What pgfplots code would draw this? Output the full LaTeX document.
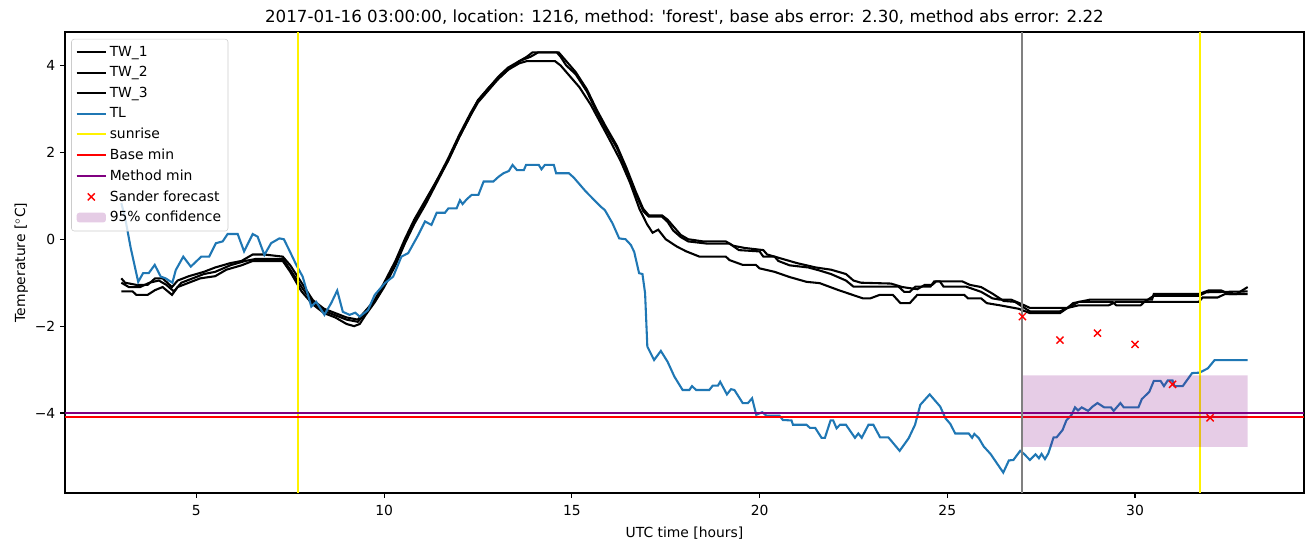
\documentclass[border=0pt]{standalone}
\usepackage{fontspec}
\setmainfont{DejaVu Sans}
\usepackage{pgfplots}
\pgfplotsset{compat=1.18}
\definecolor{tab blue}{RGB}{31,119,180}
\definecolor{mplpurple}{RGB}{128,0,128}
\definecolor{mplgray}{RGB}{128,128,128}
\begin{document}
\begin{tikzpicture}
\useasboundingbox (-46.8pt,-38.88pt) rectangle (898.56pt,354.96pt);
\begin{axis}[
  at={(0,0)}, anchor=south west,
  scale only axis, width=892.08pt, height=331.92pt,
  xmin=1.5, xmax=34.5, ymin=-5.84, ymax=4.77,
  xtick={5,10,15,20,25,30},
  ytick={-4,-2,0,2,4}, yticklabels={−4,−2,0,2,4},
  tick pos=left, tick align=outside,
  major tick length=3.5pt,
  every tick/.style={black, line width=0.8pt},
  axis line style={line width=0.8pt},
  tick label style={font=\fontsize{10}{12}\selectfont},
  xticklabel style={yshift=-2pt},
  /pgf/number format/assume math mode=true,
  xlabel={UTC time [hours]}, ylabel={Temperature [$^\circ$C]},
  label style={font=\fontsize{10}{12}\selectfont},
  xlabel style={yshift=-1pt},
  ylabel style={yshift=-2pt},
  title={2017-01-16 03:00:00, location: 1216, method: \textquotesingle forest\textquotesingle, base abs error: 2.30, method abs error: 2.22},
  title style={font=\fontsize{12}{14}\selectfont, yshift=-4pt},
  legend cell align=left,
  legend image code/.code={\draw[mark repeat=2,mark phase=2,#1] plot coordinates {(0cm,0cm) (0.37cm,0cm) (0.74cm,0cm)};},
  legend style={font=\fontsize{10}{12}\selectfont, draw=black!20, rounded corners=2pt, fill=white, fill opacity=0.8, text opacity=1, draw opacity=1, at={(0.005,0.985)}, anchor=north west, inner xsep=3pt, inner ysep=3pt, row sep=1.9pt},
  every axis plot/.append style={line width=1.5pt},
]
% TW_1
\addplot[black, mark=none] coordinates {
(3.0,-0.9) (3.1,-1.0) (3.4,-1.05) (3.7,-1.05) (3.9,-0.9) (4.1,-0.9) (4.35,-1.1) (4.5,-0.95) (4.8,-0.85) (5.2,-0.75) (5.5,-0.65) (5.9,-0.55) (6.2,-0.5) (6.5,-0.35) (6.8,-0.35) (7.3,-0.4) (7.5,-0.6) (7.8,-1.0) (8.1,-1.4) (8.4,-1.6) (8.7,-1.7) (9.0,-1.8) (9.3,-1.85) (9.5,-1.65) (9.75,-1.4) (10.0,-1.0) (10.3,-0.5) (10.55,0.0) (10.8,0.45) (11.1,0.9) (11.4,1.35) (11.7,1.8) (12.0,2.35) (12.3,2.85) (12.5,3.2) (12.8,3.5) (13.05,3.75) (13.3,3.95) (13.6,4.1) (13.8,4.2) (13.95,4.3) (14.6,4.3) (14.7,4.2) (14.85,4.0) (15.1,3.8) (15.4,3.4) (15.65,2.95) (15.9,2.55) (16.2,2.1) (16.45,1.6) (16.7,1.05) (16.9,0.65) (17.05,0.52) (17.4,0.52) (17.55,0.4) (17.7,0.2) (17.9,0.05) (18.1,-0.05) (18.6,-0.1) (19.2,-0.1) (19.45,-0.25) (20.0,-0.28) (20.1,-0.4) (20.4,-0.4) (20.5,-0.5) (20.8,-0.6) (21.3,-0.65) (21.6,-0.72) (21.9,-0.8) (22.3,-0.95) (22.5,-1.09) (23.7,-1.09) (23.85,-1.21) (24.0,-1.21) (24.15,-1.09) (24.55,-1.09) (24.65,-0.97) (24.8,-0.97) (24.9,-1.09) (25.5,-1.09) (25.9,-1.21) (26.2,-1.36) (26.4,-1.39) (26.7,-1.39) (27.0,-1.5) (27.2,-1.58) (28.2,-1.58) (28.35,-1.47) (28.8,-1.39) (30.45,-1.39) (30.5,-1.26) (31.7,-1.26) (31.95,-1.18) (32.3,-1.18) (32.5,-1.26) (32.7,-1.26) (33.0,-1.1)
};
\addlegendentry{TW\_1}
% TW_2
\addplot[black, mark=none] coordinates {
(3.0,-1.0) (3.2,-1.1) (3.5,-1.1) (3.75,-1.0) (4.0,-0.95) (4.2,-1.05) (4.4,-1.2) (4.6,-1.0) (4.9,-0.9) (5.2,-0.8) (5.5,-0.75) (5.9,-0.6) (6.3,-0.5) (6.6,-0.45) (7.3,-0.45) (7.5,-0.7) (7.8,-1.1) (8.1,-1.45) (8.4,-1.65) (8.7,-1.75) (9.0,-1.85) (9.3,-1.9) (9.5,-1.7) (9.75,-1.4) (10.0,-1.05) (10.3,-0.55) (10.55,-0.05) (10.8,0.4) (11.1,0.85) (11.4,1.35) (11.7,1.85) (12.0,2.4) (12.3,2.9) (12.5,3.2) (12.8,3.5) (13.05,3.7) (13.3,3.9) (13.6,4.1) (13.9,4.2) (14.1,4.3) (14.65,4.3) (14.8,4.15) (15.1,3.85) (15.4,3.45) (15.65,3.0) (15.9,2.6) (16.2,2.15) (16.45,1.65) (16.7,1.1) (16.9,0.7) (17.05,0.55) (17.4,0.55) (17.55,0.45) (17.7,0.3) (17.9,0.1) (18.1,0.0) (18.5,-0.05) (19.1,-0.05) (19.3,-0.15) (19.6,-0.2) (20.1,-0.25) (20.2,-0.35) (20.6,-0.45) (21.0,-0.55) (21.5,-0.65) (21.9,-0.7) (22.3,-0.8) (22.5,-0.95) (22.7,-1.0) (23.5,-1.02) (23.8,-1.1) (24.2,-1.15) (24.4,-1.05) (24.6,-1.05) (24.7,-0.97) (25.4,-0.97) (25.6,-1.05) (25.9,-1.1) (26.2,-1.25) (26.5,-1.42) (26.8,-1.44) (27.0,-1.55) (27.2,-1.66) (28.0,-1.66) (28.2,-1.58) (28.5,-1.44) (29.4,-1.44) (29.5,-1.52) (30.15,-1.52) (30.25,-1.44) (30.5,-1.3) (31.7,-1.3) (31.9,-1.22) (33.0,-1.2)
};
\addlegendentry{TW\_2}
% TW_3
\addplot[black, mark=none] coordinates {
(3.0,-1.2) (3.3,-1.2) (3.4,-1.28) (3.7,-1.28) (3.9,-1.17) (4.1,-1.1) (4.35,-1.28) (4.5,-1.1) (4.8,-1.0) (5.1,-0.9) (5.5,-0.85) (5.8,-0.7) (6.2,-0.6) (6.5,-0.5) (7.3,-0.5) (7.5,-0.75) (7.8,-1.2) (8.1,-1.5) (8.4,-1.7) (8.7,-1.8) (9.0,-1.95) (9.2,-2.0) (9.35,-1.95) (9.5,-1.75) (9.75,-1.45) (10.0,-1.1) (10.3,-0.6) (10.55,-0.1) (10.8,0.35) (11.1,0.8) (11.4,1.3) (11.7,1.8) (12.0,2.35) (12.3,2.85) (12.5,3.15) (12.8,3.45) (13.05,3.7) (13.3,3.9) (13.6,4.05) (13.8,4.1) (14.55,4.1) (14.7,4.0) (14.9,3.8) (15.2,3.5) (15.5,3.1) (15.75,2.7) (16.0,2.3) (16.3,1.8) (16.55,1.3) (16.8,0.7) (17.0,0.35) (17.15,0.15) (17.3,0.22) (17.5,0.0) (17.8,-0.17) (18.05,-0.28) (18.4,-0.4) (19.1,-0.4) (19.2,-0.48) (19.55,-0.59) (19.9,-0.59) (20.0,-0.67) (20.4,-0.75) (20.8,-0.87) (21.25,-0.98) (21.6,-1.01) (22.1,-1.17) (22.75,-1.36) (22.95,-1.36) (23.2,-1.28) (23.55,-1.28) (23.75,-1.47) (24.0,-1.47) (24.2,-1.28) (25.45,-1.28) (25.55,-1.36) (25.9,-1.36) (26.05,-1.47) (26.4,-1.52) (26.9,-1.6) (27.2,-1.7) (28.0,-1.7) (28.2,-1.58) (28.5,-1.52) (29.3,-1.52) (29.5,-1.44) (31.7,-1.44) (31.8,-1.34) (32.2,-1.34) (32.4,-1.26) (33.0,-1.26)
};
\addlegendentry{TW\_3}
% TL
\addplot[tab blue, mark=none] coordinates {
(3.0,0.83) (3.1,0.5) (3.25,-0.2) (3.45,-0.98) (3.58,-0.78) (3.73,-0.78) (3.89,-0.59) (4.05,-0.86) (4.18,-0.9) (4.36,-1.0) (4.45,-0.71) (4.65,-0.4) (4.85,-0.63) (5.13,-0.4) (5.34,-0.4) (5.52,-0.09) (5.7,-0.05) (5.83,0.12) (6.1,0.12) (6.27,-0.28) (6.5,0.12) (6.63,0.06) (6.81,-0.36) (6.99,-0.09) (7.21,0.02) (7.33,0.0) (7.5,-0.3) (7.66,-0.59) (7.83,-0.86) (8.06,-1.55) (8.19,-1.44) (8.41,-1.74) (8.59,-1.47) (8.75,-1.18) (8.9,-1.67) (9.08,-1.74) (9.23,-1.69) (9.35,-1.78) (9.57,-1.63) (9.75,-1.28) (10.02,-1.01) (10.24,-0.86) (10.46,-0.4) (10.64,-0.32) (10.91,0.1) (11.09,0.41) (11.26,0.33) (11.4,0.61) (11.62,0.61) (11.71,0.71) (11.93,0.71) (12.02,0.9) (12.09,0.81) (12.2,0.92) (12.33,1.02) (12.51,1.02) (12.65,1.33) (12.91,1.33) (13.05,1.44) (13.18,1.52) (13.32,1.57) (13.42,1.71) (13.54,1.59) (13.72,1.59) (13.78,1.71) (14.12,1.71) (14.19,1.61) (14.28,1.71) (14.52,1.71) (14.58,1.52) (14.92,1.52) (15.05,1.42) (15.37,1.1) (15.77,0.75) (15.88,0.67) (16.08,0.37) (16.26,0.02) (16.43,0.0) (16.57,-0.13) (16.66,-0.29) (16.79,-0.78) (16.88,-0.8) (16.95,-1.24) (17.01,-2.47) (17.19,-2.78) (17.37,-2.57) (17.55,-2.82) (17.73,-3.16) (17.95,-3.47) (18.13,-3.47) (18.2,-3.38) (18.31,-3.47) (18.66,-3.47) (18.75,-3.37) (18.89,-3.37) (18.95,-3.28) (19.13,-3.57) (19.24,-3.45) (19.33,-3.47) (19.55,-3.77) (19.69,-3.77) (19.8,-3.66) (19.91,-4.04) (20.07,-3.98) (20.18,-4.06) (20.53,-4.06) (20.62,-4.16) (20.85,-4.17) (20.89,-4.27) (21.25,-4.27) (21.34,-4.34) (21.48,-4.34) (21.65,-4.57) (21.74,-4.57) (21.89,-4.17) (21.96,-4.17) (22.05,-4.35) (22.14,-4.27) (22.3,-4.27) (22.54,-4.57) (22.63,-4.47) (22.72,-4.57) (22.9,-4.27) (23.03,-4.27) (23.21,-4.56) (23.43,-4.56) (23.73,-4.87) (23.97,-4.58) (24.14,-4.27) (24.28,-3.81) (24.53,-3.57) (24.81,-3.85) (24.95,-4.12) (25.08,-4.25) (25.21,-4.47) (25.57,-4.47) (25.66,-4.57) (25.72,-4.48) (25.84,-4.58) (25.97,-4.77) (26.15,-4.94) (26.49,-5.37) (26.64,-5.09) (26.76,-5.08) (26.94,-4.87) (27.03,-4.93) (27.2,-5.08) (27.35,-4.95) (27.44,-5.04) (27.51,-4.94) (27.6,-5.06) (27.69,-4.93) (27.83,-4.56) (27.91,-4.56) (28.07,-4.39) (28.17,-4.17) (28.31,-4.04) (28.4,-3.87) (28.48,-3.94) (28.58,-3.87) (28.75,-3.95) (28.87,-3.85) (29.0,-3.77) (29.18,-3.87) (29.36,-3.87) (29.43,-3.95) (29.61,-3.77) (29.7,-3.87) (30.09,-3.87) (30.18,-3.68) (30.38,-3.51) (30.5,-3.26) (30.68,-3.26) (30.77,-3.38) (30.87,-3.25) (31.0,-3.25) (31.05,-3.38) (31.27,-3.38) (31.52,-3.08) (31.72,-3.07) (31.94,-2.97) (32.12,-2.78) (33.0,-2.78)
};
\addlegendentry{TL}
% sunrise
\addplot[yellow, mark=none] coordinates {(7.7,-5.84) (7.7,4.77)};
\addlegendentry{sunrise}
\addplot[yellow, mark=none, forget plot] coordinates {(31.73,-5.84) (31.73,4.77)};
% base min / method min
\addplot[red, mark=none] coordinates {(1.5,-4.09) (34.5,-4.09)};
\addlegendentry{Base min}
\addplot[mplpurple, mark=none] coordinates {(1.5,-4.0) (34.5,-4.0)};
\addlegendentry{Method min}
% Sander forecast
\addplot[red, only marks, mark=x, mark size=3.6pt, mark options={line width=1pt}] coordinates {(27,-1.78) (28,-2.32) (29,-2.16) (30,-2.42) (31,-3.34) (32,-4.11)};
\addlegendentry{Sander forecast}
% 95% confidence
\addplot[draw=none, fill=mplpurple, fill opacity=0.2,
  legend image code/.code={\fill[mplpurple, fill opacity=0.2] (0cm,-0.12cm) rectangle (0.74cm,0.13cm);}]
  coordinates {(27,-4.78) (27,-3.13) (33,-3.13) (33,-4.78) (27,-4.78)};
\addlegendentry{95\% confidence}
% now marker
\addplot[mplgray, mark=none, forget plot] coordinates {(27,-5.84) (27,4.77)};
\end{axis}
\end{tikzpicture}
\end{document}
